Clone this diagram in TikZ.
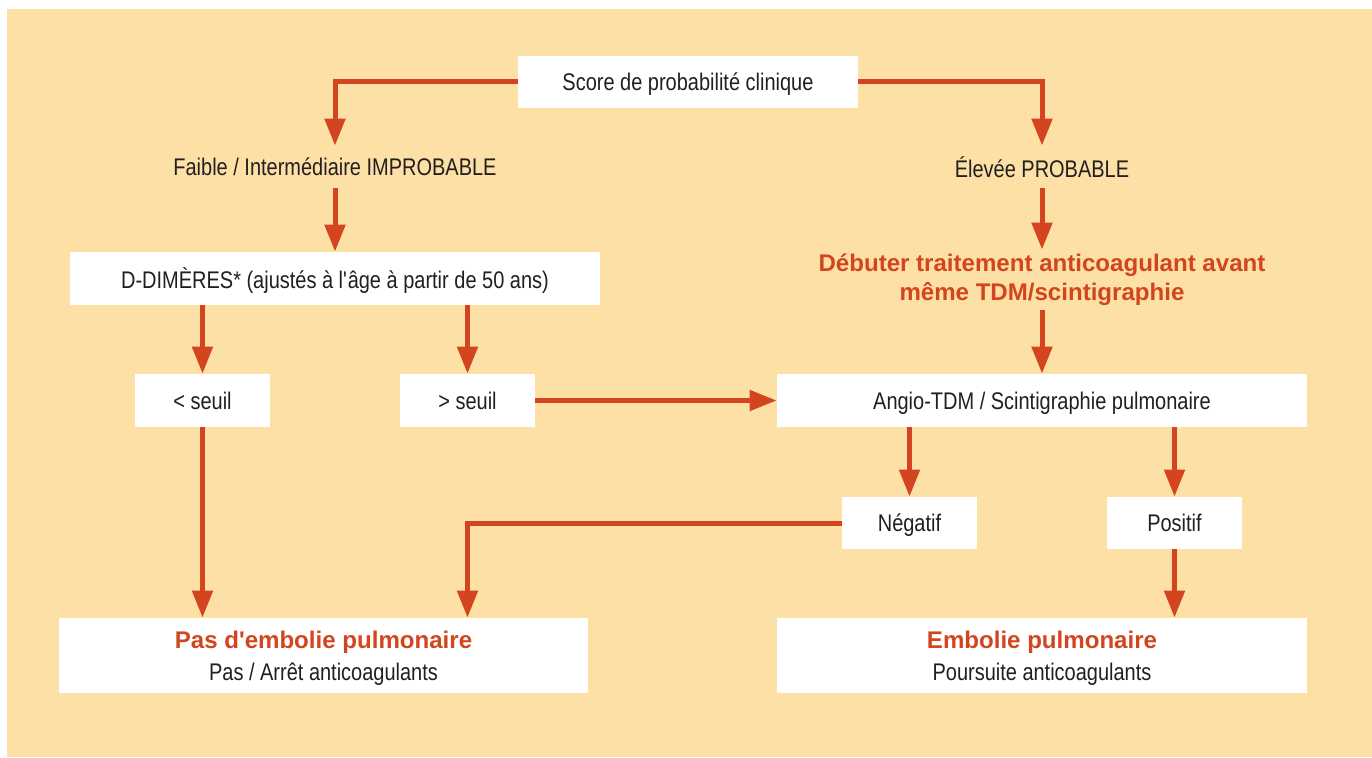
\documentclass[tikz,border=0pt]{standalone}
\usepackage{fontspec}
\setmainfont[FakeStretch=0.83]{Liberation Sans}
\newfontfamily\widefont{Liberation Sans}
\usepackage{tikz}
\usetikzlibrary{arrows.meta, positioning, calc}
\usepackage{xcolor}
\definecolor{bgcol}{RGB}{253,224,165}
\definecolor{arrcol}{RGB}{211,69,30}
\definecolor{txtcol}{RGB}{35,31,32}

\begin{document}
\begin{tikzpicture}[
    font=\fontsize{13.7}{16.5}\selectfont,
    % Node styles
    whitebox/.style={rectangle, fill=white, inner sep=0pt, minimum height=1.06cm, text depth=0pt, text=txtcol, align=center},
    bigbox/.style={whitebox, minimum width=10.6cm},
    smallbox/.style={whitebox, minimum width=2.7cm},
    resbox/.style={whitebox, minimum width=10.6cm, minimum height=1.5cm},
    plain/.style={inner sep=0pt, text=txtcol, align=center},
    hilite/.style={font=\widefont\bfseries\fontsize{13.7}{16.5}\selectfont, text=arrcol},
    arrow/.style={-{Triangle[length=5.4mm, width=4mm]}, line width=1mm, draw=arrcol},
]

% ============================================================================
% BACKGROUND
% ============================================================================
\useasboundingbox (0,0) rectangle (27.44,15.14);
\fill[bgcol] (0.14,0) rectangle (27.44,14.96);

% ============================================================================
% NODES
% ============================================================================
\node[whitebox, minimum width=6.8cm, minimum height=1.04cm] (score) at (13.76, 13.50) {Score de probabilité clinique};

% Left branch
\node[plain, minimum height=0.84cm] (faible) at (6.70, 11.80) {Faible / Intermédiaire IMPROBABLE};
\node[bigbox] (ddim) at (6.70, 9.57) {D-DIMÈRES* (ajustés à l\textquotesingle âge à partir de 50 ans)};
\node[smallbox] (infseuil) at (4.05, 7.13) {< seuil};
\node[smallbox] (supseuil) at (9.35, 7.13) {> seuil};

% Right branch
\node[plain, minimum height=0.84cm] (elevee) at (20.84, 11.80) {Élevée PROBABLE};
\node[plain, hilite, minimum height=1.2cm] (debuter) at (20.84, 9.54) {Débuter traitement anticoagulant avant\\même TDM/scintigraphie};
\node[bigbox] (angio) at (20.84, 7.13) {Angio-TDM / Scintigraphie pulmonaire};
\node[smallbox, minimum height=1.04cm] (negatif) at (18.19, 4.68) {Négatif};
\node[smallbox, minimum height=1.04cm] (positif) at (23.49, 4.68) {Positif};

% Results
\node[resbox, minimum width=10.58cm] (pasep) at (6.47, 2.03) {{\widefont\bfseries\color{arrcol}Pas d\textquotesingle embolie pulmonaire}\\[1.5pt]Pas / Arrêt anticoagulants};
\node[resbox] (ep) at (20.84, 2.03) {{\widefont\bfseries\color{arrcol}Embolie pulmonaire}\\[1.5pt]Poursuite anticoagulants};

% ============================================================================
% CONNECTORS
% ============================================================================
\draw[arrow] (score.west) -| (faible.north);
\draw[arrow] (score.east) -| (elevee.north);
\draw[arrow] (faible.south) -- (ddim.north);
\draw[arrow] (infseuil |- ddim.south) -- (infseuil.north);
\draw[arrow] (supseuil |- ddim.south) -- (supseuil.north);
\draw[arrow] (supseuil.east) -- (angio.west);
\draw[arrow] (elevee.south) -- (debuter.north);
\draw[arrow] (debuter.south) -- (angio.north);
\draw[arrow] (negatif |- angio.south) -- (negatif.north);
\draw[arrow] (positif |- angio.south) -- (positif.north);
\draw[arrow] (negatif.west) -| (supseuil |- pasep.north);
\draw[arrow] (infseuil.south) -- (infseuil |- pasep.north);
\draw[arrow] (positif.south) -- (positif |- ep.north);

\end{tikzpicture}
\end{document}
